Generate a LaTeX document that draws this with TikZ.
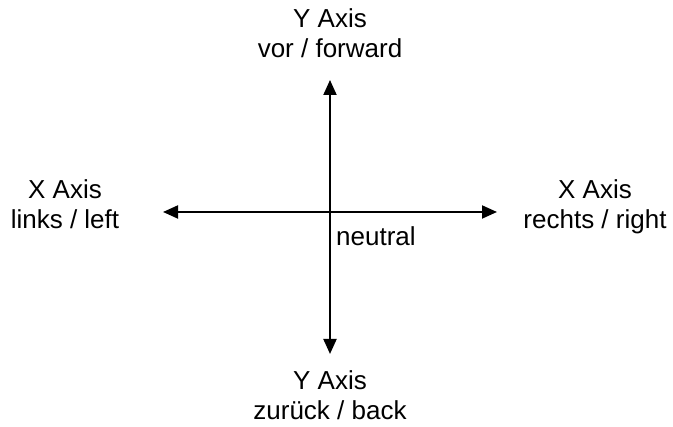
\documentclass[tikz,border=0pt]{standalone}
\usepackage{fontspec}
\setmainfont{Liberation Sans}
\usetikzlibrary{arrows.meta}
\begin{document}
\begin{tikzpicture}[x=1pt,y=1pt,
  lbl/.style={font=\fontsize{26}{30}\selectfont, inner sep=0pt, anchor=base},
  axis/.style={line width=2pt, {Triangle[width=13pt,length=15pt]}-{Triangle[width=13pt,length=15pt]}}]
\useasboundingbox (0,0) rectangle (673,427);
\coordinate (top) at (330,347);
\coordinate (bot) at (330,73);
\coordinate (lft) at (163,215);
\coordinate (rgt) at (497,215);
\draw[axis] (bot) -- (top);
\draw[axis] (lft) -- (rgt);
\node[lbl] (t1) at (330,399) {Y Axis};
\node[lbl] (t2) at (330,369) {vor / forward};
\node[lbl] (l1) at (65,228) {X Axis};
\node[lbl] (l2) at (65,198) {links / left};
\node[lbl] (r1) at (595,228) {X Axis};
\node[lbl] (r2) at (595,198) {rechts / right};
\node[lbl, anchor=base west] (n) at (336,181) {neutral};
\node[lbl] (b1) at (330,37) {Y Axis};
\node[lbl] (b2) at (330,7) {zurück / back};
\end{tikzpicture}
\end{document}
